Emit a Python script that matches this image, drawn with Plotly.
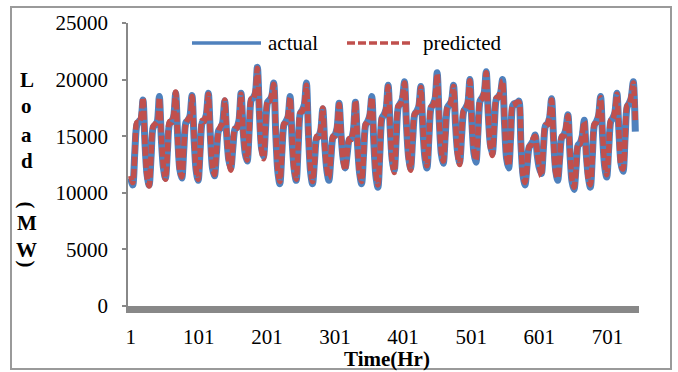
import plotly.graph_objects as go

# hourly samples (every 3 h) over a 31-day month
day_hours = [1, 4, 7, 10, 13, 16, 19, 22]
n_days = 31
hours = [24 * d + h for d in range(n_days) for h in day_hours]

actual_load = [
    11300, 10700, 13600, 16000, 16300, 16500, 18200, 14300,
    11600, 10700, 13300, 15800, 16000, 16300, 18500, 14700,
    12200, 11300, 13800, 16100, 16300, 16700, 18800, 14900,
    12100, 11300, 13900, 16200, 16400, 16800, 18600, 14800,
    12000, 11100, 13800, 16200, 16400, 16900, 18800, 15000,
    12200, 11500, 13600, 15500, 15700, 16200, 18100, 15000,
    12900, 12200, 14000, 15600, 15800, 16400, 18800, 15600,
    13500, 12800, 15600, 18200, 18400, 18800, 21100, 17000,
    14000, 13200, 15700, 18000, 18200, 18500, 19700, 15200,
    11900, 10800, 13600, 16000, 16300, 16700, 18500, 14600,
    12100, 11100, 14200, 17000, 17300, 17800, 19700, 15200,
    11900, 10800, 12900, 14800, 15000, 15500, 17400, 14200,
    12000, 11100, 13100, 14900, 15100, 15700, 17900, 15000,
    13000, 12200, 13500, 14700, 14800, 15500, 18000, 14300,
    11800, 10800, 13500, 16000, 16300, 16800, 18500, 14400,
    11500, 10500, 13700, 16600, 16900, 17400, 19500, 15700,
    12900, 12000, 15000, 17600, 17900, 18300, 19800, 15900,
    13200, 12200, 14700, 16900, 17200, 17600, 19400, 15700,
    13100, 12200, 15000, 17500, 17800, 18300, 20600, 16500,
    13500, 12600, 15200, 17500, 17800, 18100, 19500, 16000,
    13600, 12700, 15100, 17200, 17500, 17900, 20000, 16200,
    13500, 12700, 15500, 18100, 18400, 18800, 20700, 17000,
    14300, 13500, 16000, 18300, 18500, 18800, 20000, 16000,
    13000, 12200, 15000, 17700, 17900, 17800, 18100, 14300,
    11600, 10700, 12400, 14000, 14300, 14600, 15100, 13300,
    12200, 11700, 13900, 15900, 16100, 16600, 18300, 14700,
    12000, 11100, 13100, 14900, 15100, 15600, 16900, 13500,
    11000, 10300, 12300, 14200, 14400, 15000, 16400, 13400,
    11400, 10500, 13400, 16000, 16300, 16800, 18500, 14900,
    12300, 11400, 14000, 16300, 16600, 17100, 18800, 15300,
    12600, 11900, 14900, 17600, 17900, 18400, 19800, 15400,
]

predicted_load = [
    11500, 10900, 13400, 16200, 16200, 16700, 18400, 14100,
    11400, 10600, 13500, 15900, 16100, 16200, 18400, 14900,
    12300, 11200, 13600, 16300, 16200, 16900, 18900, 14700,
    12000, 11400, 14100, 16100, 16500, 16700, 18500, 15000,
    12100, 11200, 13600, 16400, 16300, 17000, 18700, 14800,
    12400, 11600, 13800, 15400, 15900, 16100, 18200, 15200,
    12800, 12000, 14200, 15700, 15700, 16600, 18700, 15400,
    13700, 12900, 15400, 18300, 18300, 19000, 21000, 16800,
    13800, 13000, 15900, 18100, 18100, 18700, 19600, 15400,
    12000, 11000, 13400, 16100, 16200, 16900, 18400, 14800,
    11900, 11200, 14400, 17100, 17200, 17900, 19500, 15000,
    12100, 11000, 12700, 15000, 14900, 15700, 17500, 14000,
    12200, 11300, 13300, 15000, 15000, 15900, 17800, 15200,
    12800, 12000, 13700, 14800, 14700, 15700, 18100, 14500,
    11700, 11000, 13300, 16100, 16200, 17000, 18400, 14600,
    11700, 10700, 13500, 16700, 16800, 17600, 19400, 15500,
    12700, 11800, 15200, 17700, 17800, 18500, 19700, 16100,
    13000, 12000, 14900, 17000, 17100, 17800, 19300, 15900,
    13300, 12400, 14800, 17600, 17700, 18500, 20500, 16300,
    13700, 12800, 15000, 17600, 17700, 18300, 19400, 16200,
    13400, 12500, 15300, 17300, 17400, 18100, 19900, 16000,
    13700, 12900, 15300, 18200, 18300, 19000, 20600, 16800,
    14100, 13300, 16200, 18400, 18400, 19000, 19900, 16200,
    13200, 12400, 14800, 17800, 17800, 18000, 18000, 14500,
    11500, 10900, 12200, 14100, 14200, 14800, 15000, 13500,
    12400, 11500, 14100, 16000, 16000, 16800, 18200, 14500,
    11800, 11300, 12900, 15000, 15000, 15800, 16800, 13700,
    11200, 10500, 12100, 14300, 14300, 15200, 16300, 13200,
    11200, 10700, 13200, 16100, 16200, 17000, 18400, 15100,
    12500, 11600, 13800, 16400, 16500, 17300, 18700, 15100,
    12400, 12100, 14700, 17700, 17800, 18600, 19700, 16400,
]

x_tick_vals = [1, 101, 201, 301, 401, 501, 601, 701]
y_tick_vals = [0, 5000, 10000, 15000, 20000, 25000]
y_tick_text = ["0", "5000", "10000", "15000", "20000", "25000"]
series_names = ["actual", "predicted"]
y_title_letters = ["L", "o", "a", "d", "(", "M", "W", ")"]

BLUE = "#4F81BD"
RED = "#C0504D"
SERIF = "Liberation Serif, Times New Roman, serif"

fig = go.Figure()
fig.add_trace(go.Scatter(x=hours, y=actual_load, mode="lines", name=series_names[0],
                         line=dict(color=BLUE, width=7, shape="spline", smoothing=0.8),
                         showlegend=False))
fig.add_trace(go.Scatter(x=hours, y=predicted_load, mode="lines", name=series_names[1],
                         line=dict(color=RED, width=5.5, dash="9px,3px", shape="spline", smoothing=0.8),
                         showlegend=False))

# plot area geometry (px) for paper conversions
L, R, T, B = 128, 639, 23, 306
W, H = R - L, B - T
def px(x):
    return (x - L) / W
def py(y):
    return (B - y) / H

shapes = [
    # outer chart border
    dict(type="rect", xref="paper", yref="paper", x0=px(11), x1=px(671), y0=py(369), y1=py(7),
         line=dict(color="#9a9a9a", width=2), fillcolor="rgba(0,0,0,0)", layer="below"),
    # legend samples
    dict(type="line", xref="paper", yref="paper", x0=px(192), x1=px(261), y0=py(43), y1=py(43),
         line=dict(color=BLUE, width=3.5)),
    dict(type="line", xref="paper", yref="paper", x0=px(347), x1=px(413), y0=py(43), y1=py(43),
         line=dict(color=RED, width=3.5, dash="8px,3px")),
]

annotations = [
    dict(text=series_names[0], xref="paper", yref="paper", x=px(266), y=py(43), xanchor="left",
         yanchor="middle", showarrow=False, font=dict(family=SERIF, size=21, color="black")),
    dict(text=series_names[1], xref="paper", yref="paper", x=px(421), y=py(43), xanchor="left",
         yanchor="middle", showarrow=False, font=dict(family=SERIF, size=21, color="black")),
    dict(text="<b>Time(Hr)</b>", xref="paper", yref="paper", x=px(387), y=py(359), xanchor="center",
         yanchor="middle", showarrow=False, borderpad=0,
         font=dict(family=SERIF, size=21, color="black")),
]

letter_y = [80, 106, 135, 161, 205, 223, 250, 264]
for ch, yy in zip(y_title_letters, letter_y):
    ang = 90 if ch in "()" else 0
    annotations.append(dict(text="<b>" + ch + "</b>", xref="paper", yref="paper", x=px(26.5), y=py(yy),
                            xanchor="center", yanchor="middle", showarrow=False, textangle=ang,
                            font=dict(family=SERIF, size=21, color="black")))

fig.update_layout(
    width=678, height=372, autosize=False,
    margin=dict(l=L, r=678 - R, t=T, b=372 - B, pad=0),
    paper_bgcolor="white", plot_bgcolor="white",
    shapes=shapes, annotations=annotations,
    xaxis=dict(range=[-3, 747.4], tickvals=x_tick_vals, ticktext=[str(v) for v in x_tick_vals],
               showgrid=False, zeroline=False, showline=True, linecolor="#888888", linewidth=7,
               ticks="", tickfont=dict(family=SERIF, size=21, color="black"), ticklabelstandoff=6),
    yaxis=dict(range=[0, 25000], tickvals=y_tick_vals, ticktext=y_tick_text,
               showgrid=False, zeroline=False, showline=True, linecolor="#888888", linewidth=1.5,
               ticks="outside", ticklen=4, tickwidth=1.5, tickcolor="#888888",
               tickfont=dict(family=SERIF, size=21, color="black"), ticklabelstandoff=10),
    showlegend=False,
)

fig.write_html("out.html", config={"displayModeBar": False})
